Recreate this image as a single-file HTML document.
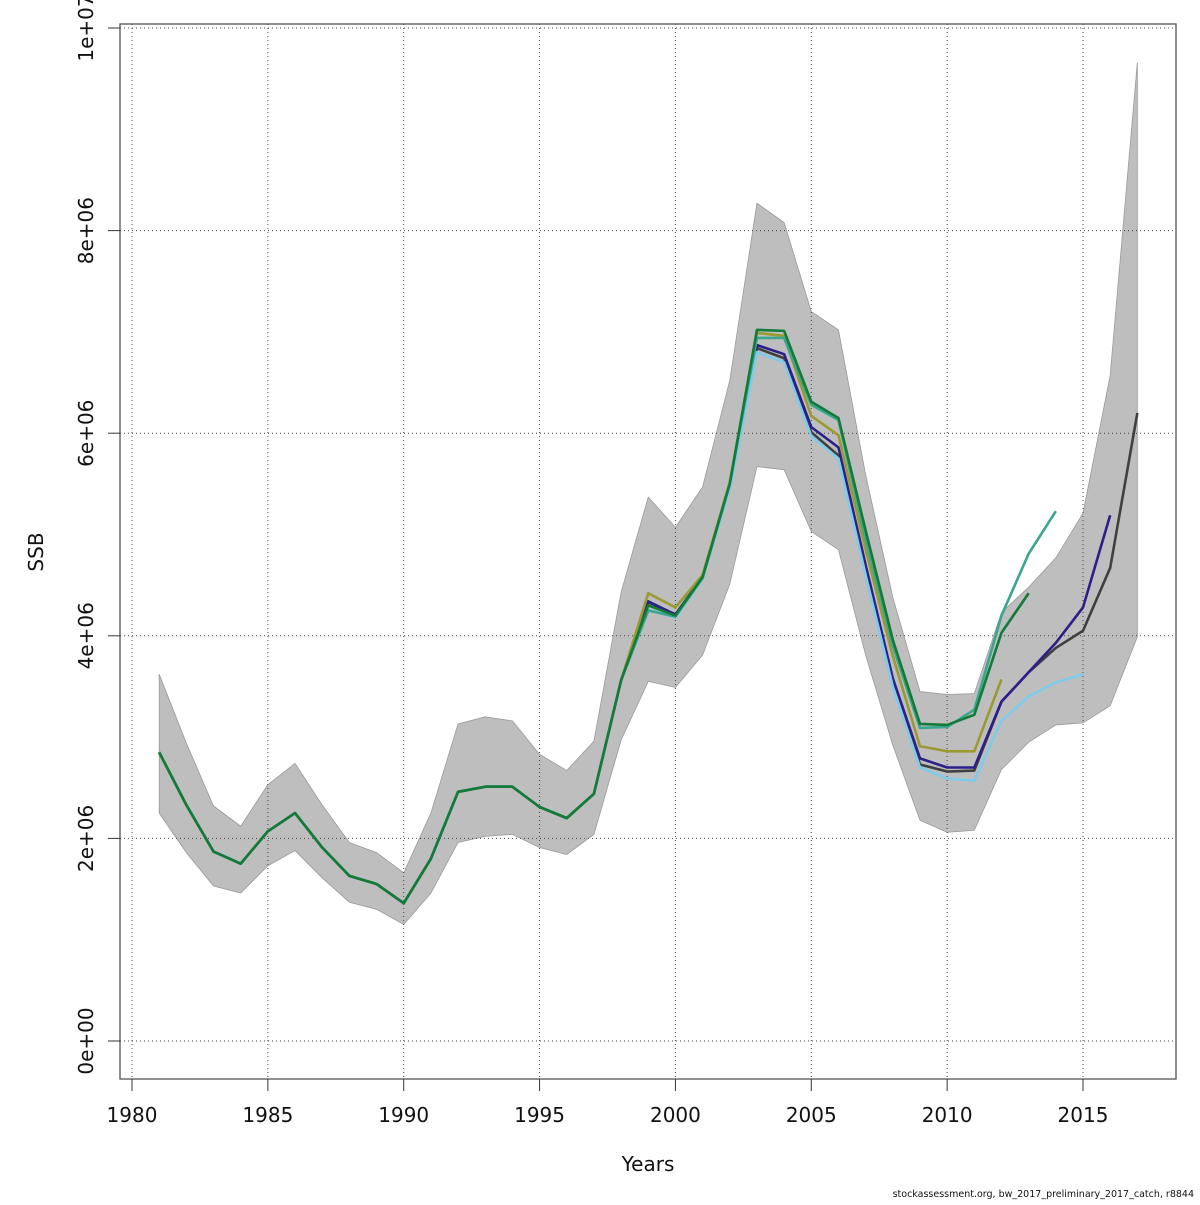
<!DOCTYPE html>
<html><head><meta charset="utf-8"><style>
body{margin:0;background:#fff;}
svg text{font-family:"DejaVu Sans","Liberation Sans",sans-serif;}
</style></head><body>
<svg id="chart" width="1200" height="1200" xmlns="http://www.w3.org/2000/svg">
<rect x="0" y="0" width="1200" height="1200" fill="#fff"/>
<g id="band"></g><g id="grid"></g><g id="lines"></g><g id="axes"></g>
</svg>
<script>
const years = [1981,1982,1983,1984,1985,1986,1987,1988,1989,1990,1991,1992,1993,1994,1995,1996,1997,1998,1999,2000,2001,2002,2003,2004,2005,2006,2007,2008,2009,2010,2011,2012,2013,2014,2015,2016,2017];
const bandUpper = [3.62,2.94,2.32,2.12,2.53,2.74,2.33,1.96,1.86,1.66,2.25,3.13,3.20,3.16,2.83,2.67,2.96,4.43,5.37,5.07,5.47,6.52,8.27,8.08,7.20,7.02,5.59,4.38,3.45,3.42,3.43,4.23,4.48,4.77,5.21,6.57,9.66];
const bandLower = [2.25,1.86,1.53,1.46,1.73,1.88,1.61,1.37,1.30,1.15,1.46,1.96,2.02,2.04,1.91,1.84,2.04,2.97,3.55,3.49,3.81,4.51,5.67,5.64,5.03,4.85,3.81,2.92,2.18,2.06,2.08,2.68,2.95,3.12,3.14,3.31,3.99];
const common = [2.85,2.33,1.87,1.75,2.07,2.25,1.91,1.63,1.55,1.36,1.80,2.46,2.51,2.51,2.31,2.20,2.44,3.56];
const blackTail = [4.33,4.21,4.58,5.50,6.84,6.74,6.01,5.78,4.65,3.56,2.73,2.66,2.67,3.35,3.64,3.88,4.05,4.67,6.20];
const navyTail = [4.34,4.21,4.58,5.50,6.87,6.78,6.06,5.86,4.70,3.58,2.79,2.70,2.70,3.35,3.64,3.93,4.28,5.19];
const lightblueTail = [4.26,4.18,4.56,5.45,6.80,6.70,5.97,5.75,4.60,3.50,2.70,2.59,2.57,3.16,3.40,3.54,3.62];
const tealTail = [4.25,4.19,4.57,5.50,6.94,6.94,6.28,6.13,4.95,3.90,3.09,3.10,3.27,4.20,4.81,5.23];
const greenTail = [4.30,4.20,4.58,5.50,7.02,7.01,6.31,6.15,5.04,3.96,3.13,3.12,3.22,4.03,4.42];
const oliveTail = [4.42,4.28,4.60,5.52,6.99,6.96,6.17,5.98,4.85,3.80,2.91,2.86,2.86,3.57];
const xTicks = [1980,1985,1990,1995,2000,2005,2010,2015];
const yTicks = [0,2,4,6,8,10];
const yTickLabels = ["0e+00","2e+06","4e+06","6e+06","8e+06","1e+07"];

const NS="http://www.w3.org/2000/svg";
const X = y => 132 + (y-1980)*(1083-132)/35;
const Y = v => 1041 - v*(1041-28)/10;
function mk(tag,attrs,parent){const e=document.createElementNS(NS,tag);for(const k in attrs)e.setAttribute(k,attrs[k]);document.getElementById(parent).appendChild(e);return e;}

let pts = years.map((y,i)=>X(y)+","+Y(bandUpper[i]));
for(let i=years.length-1;i>=0;i--) pts.push(X(years[i])+","+Y(bandLower[i]));
const band = mk('polygon',{points:pts.join(' '),fill:'#bebebe',stroke:'#9a9a9a','stroke-width':0.8},'band');



xTicks.forEach(t=>{const l=mk('line',{x1:X(t),x2:X(t),y1:24,y2:1079,stroke:'#444','stroke-width':1,'stroke-dasharray':'1,3'},'grid');

});
yTicks.forEach(t=>{const l=mk('line',{x1:120,x2:1176,y1:Y(t),y2:Y(t),stroke:'#444','stroke-width':1,'stroke-dasharray':'1,3'},'grid');

});

const series = [
 ['series-2017',blackTail,'#404040'],
 ['series-2016',navyTail,'#2c1f8a'],
 ['series-2015',lightblueTail,'#7ecbea'],
 ['series-2012',oliveTail,'#9a9a30'],
 ['series-2014',tealTail,'#3aa68f'],
 ['series-2013',greenTail,'#137a38']
];
series.forEach(s=>{
 const vals = common.concat(s[1]);
 const p = vals.map((v,i)=>X(years[i])+","+Y(v)).join(' ');
 const l = mk('polyline',{points:p,fill:'none',stroke:s[2],'stroke-width':2.6,'stroke-linejoin':'round'},'lines');
 
 
});

const box = mk('rect',{x:120,y:24,width:1056,height:1055,fill:'none',stroke:'#555','stroke-width':1.3},'axes');


xTicks.forEach(t=>{
 mk('line',{x1:X(t),x2:X(t),y1:1079,y2:1091,stroke:'#333','stroke-width':1},'axes');
 const tx = mk('text',{x:X(t),y:1122,'text-anchor':'middle','font-size':20,fill:'#111'},'axes');
 tx.textContent = t;
 
 
});
yTicks.forEach((t,i)=>{
 mk('line',{x1:108,x2:120,y1:Y(t),y2:Y(t),stroke:'#333','stroke-width':1},'axes');
 const tx = mk('text',{x:0,y:0,'text-anchor':'middle','font-size':20,fill:'#111',transform:`translate(93,${Y(t)}) rotate(-90)`},'axes');
 tx.textContent = yTickLabels[i];
 
 
});
const xt = mk('text',{x:648,y:1171,'text-anchor':'middle','font-size':20,fill:'#111'},'axes');
xt.textContent='Years';


const yt = mk('text',{x:0,y:0,'text-anchor':'middle','font-size':20,fill:'#111',transform:'translate(43,552) rotate(-90)'},'axes');
yt.textContent='SSB';


const ft = mk('text',{x:1194,y:1197,'text-anchor':'end','font-size':9.5,fill:'#111'},'axes');
ft.textContent='stockassessment.org, bw_2017_preliminary_2017_catch, r8844';


</script>
</body></html>
